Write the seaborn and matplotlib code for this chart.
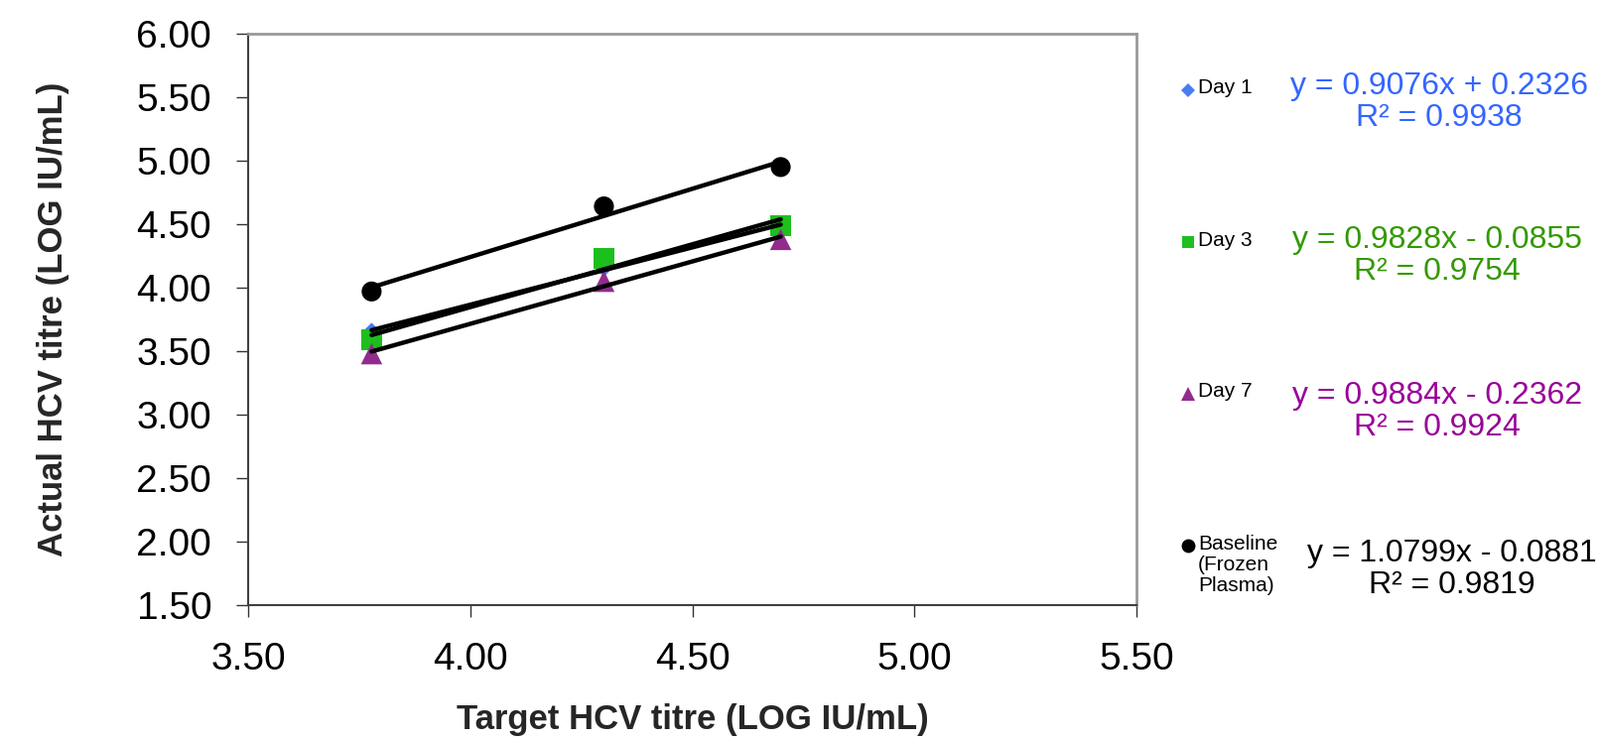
import matplotlib
matplotlib.use("Agg")
import matplotlib.pyplot as plt
from matplotlib.lines import Line2D
import pandas as pd
import seaborn as sns

# Values
target_titre = [3.778, 4.301, 4.699]
day1 = [3.66, 4.15, 4.49]
day3 = [3.59, 4.23, 4.49]
day7 = [3.48, 4.05, 4.38]
baseline = [3.97, 4.64, 4.95]

series_names = ["Day 1", "Day 3", "Day 7", "Baseline\n(Frozen\nPlasma)"]
series_values = [day1, day3, day7, baseline]
equations = [
    "y = 0.9076x + 0.2326\nR² = 0.9938",
    "y = 0.9828x - 0.0855\nR² = 0.9754",
    "y = 0.9884x - 0.2362\nR² = 0.9924",
    "y = 1.0799x - 0.0881\nR² = 0.9819",
]
x_ticks = [3.50, 4.00, 4.50, 5.00, 5.50]
y_ticks = [1.50, 2.00, 2.50, 3.00, 3.50, 4.00, 4.50, 5.00, 5.50, 6.00]

# Styles
marker_colors = ["#4A7CF2", "#1DBF1D", "#922B8E", "#000000"]
text_colors = ["#3366FF", "#339900", "#990099", "#000000"]
markers = ["D", "s", "^", "o"]
marker_sizes = [70, 225, 240, 210]
legend_marker_sizes = [7, 9, 10, 10]

# Layout (pixels in a 1612x747 canvas)
W, H = 1612, 747
legend_marker_x = 1197
legend_text_x = 1207
legend_y = [91, 244, 397, 550]
eq_x = [1450, 1448, 1448, 1463]
eq_y = [103, 258, 415, 574]

df = pd.DataFrame({
    "target": target_titre * len(series_names),
    "actual": [v for vals in series_values for v in vals],
    "series": [name for name in series_names for _ in target_titre],
})

sns.set_theme(style="white")
plt.rcParams["font.family"] = ["Liberation Sans", "DejaVu Sans"]

fig = plt.figure(figsize=(W / 100, H / 100), dpi=100)
ax = fig.add_axes([250 / W, 1 - 610 / H, 895 / W, 576 / H])

for i, name in enumerate(series_names):
    sub = df[df["series"] == name]
    sns.scatterplot(data=sub, x="target", y="actual", marker=markers[i],
                    color=marker_colors[i], s=marker_sizes[i], edgecolor="none",
                    linewidth=0, ax=ax, legend=False, zorder=2)

# Linear trendlines (black), drawn over the markers
for name in series_names:
    sub = df[df["series"] == name]
    sns.regplot(data=sub, x="target", y="actual", scatter=False, ci=None,
                color="black", ax=ax,
                line_kws={"lw": 3.2, "solid_capstyle": "round", "zorder": 3})

ax.set_xlim(3.5, 5.5)
ax.set_ylim(1.5, 6.0)
ax.set_xticks(x_ticks)
ax.set_yticks(y_ticks)
ax.set_xticklabels([f"{t:.2f}" for t in x_ticks])
ax.set_yticklabels([f"{t:.2f}" for t in y_ticks])
ax.tick_params(axis="both", direction="out", length=8.5, width=1,
               color="#333333", labelsize=28, pad=18, labelcolor="black",
               bottom=True, left=True)

for side in ["left", "bottom"]:
    ax.spines[side].set_color("#404040")
    ax.spines[side].set_linewidth(1.5)
for side in ["top", "right"]:
    ax.spines[side].set_color("#999999")
    ax.spines[side].set_linewidth(2)

ax.set_xlabel("Target HCV titre (LOG IU/mL)", fontsize=25, fontweight="bold",
              va="center")
ax.set_ylabel("Actual HCV titre (LOG IU/mL)", fontsize=25, fontweight="bold",
              va="center")
ax.xaxis.set_label_coords(0.5, (610 - 726) / 576)
ax.yaxis.set_label_coords((54 - 250) / 895, 0.5)

# Legend entries and trendline equations at the right
for i, name in enumerate(series_names):
    fig.add_artist(Line2D([legend_marker_x / W], [1 - legend_y[i] / H],
                          transform=fig.transFigure, marker=markers[i],
                          color=marker_colors[i], markersize=legend_marker_sizes[i],
                          linestyle="none", markeredgewidth=0))
    fig.text(legend_text_x / W, 1 - (legend_y[i] - 11.5) / H, name,
             fontsize=15, va="top", ha="left", color="black", linespacing=1.15)
    fig.text(eq_x[i] / W, 1 - eq_y[i] / H, equations[i], fontsize=23,
             color=text_colors[i], ha="center", va="center",
             multialignment="center", linespacing=1.1)

fig.savefig("out.png", dpi=100, facecolor="white")
